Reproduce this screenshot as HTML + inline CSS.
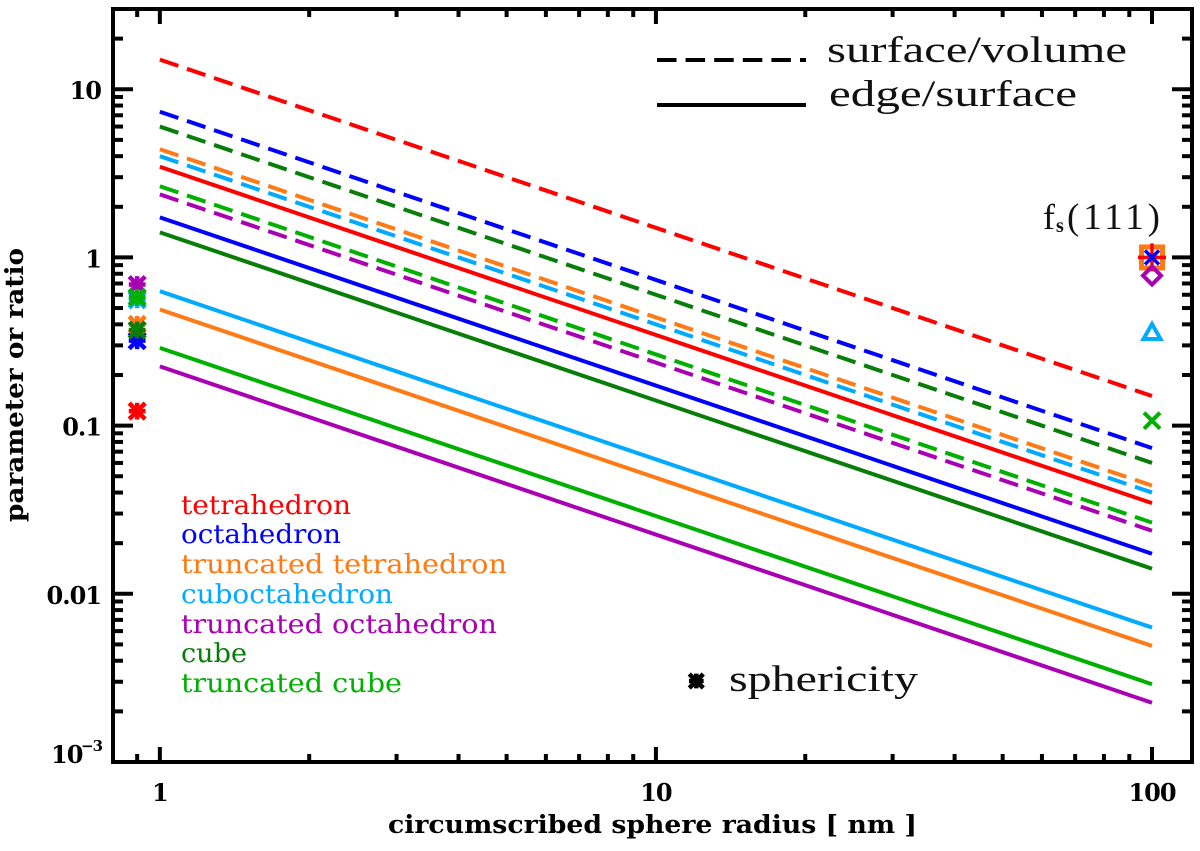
<!DOCTYPE html>
<html lang="en">
<head>
<meta charset="utf-8">
<title>Parameter or ratio vs circumscribed sphere radius</title>
<style>
html,body{margin:0;padding:0;background:#fff;width:1200px;height:851px;overflow:hidden}
svg{display:block}
.thin{font-family:"Liberation Serif",serif;fill:#111}
.name{font-family:"DejaVu Serif","Liberation Serif",serif;font-size:26px}
.tick{font-family:"DejaVu Serif","Liberation Serif",serif;font-weight:bold;font-size:24px;fill:#000;letter-spacing:-1px}
.title{font-family:"DejaVu Serif","Liberation Serif",serif;font-weight:bold;font-size:25px;fill:#000}
</style>
</head>
<body>
<svg id="chart" xmlns="http://www.w3.org/2000/svg" width="1200" height="851" viewBox="0 0 1200 851">
  <rect width="1200" height="851" fill="#fff"/>
  <g id="series"></g>
  <g id="markers"></g>
  <g id="axes"></g>

  <text class="title" transform="translate(23,522) rotate(-90)" textLength="274" lengthAdjust="spacingAndGlyphs">parameter or ratio</text>
  <text class="title" x="388" y="833" textLength="529" lengthAdjust="spacingAndGlyphs">circumscribed sphere radius [ nm ]</text>

  <line x1="657" y1="60" x2="806" y2="60" stroke="#000" stroke-width="4" stroke-dasharray="19.5 9.1"/>
  <line x1="657" y1="105" x2="806" y2="105" stroke="#000" stroke-width="4"/>
  <text class="thin" x="827" y="62" font-size="37" textLength="300" lengthAdjust="spacingAndGlyphs">surface/volume</text>
  <text class="thin" x="829" y="106" font-size="37" textLength="248" lengthAdjust="spacingAndGlyphs">edge/surface</text>

  <text class="thin" x="1043" y="229" font-size="36">f</text>
  <text class="thin" x="1056" y="232" font-size="20" font-weight="bold">s</text>
  <text class="thin" x="1067" y="229" font-size="37" textLength="93" lengthAdjust="spacing">(111)</text>

  <text class="thin" x="729" y="691" font-size="37" textLength="189" lengthAdjust="spacingAndGlyphs">sphericity</text>

  <g>
    <text class="name" x="181" y="514" fill="#ff0000" textLength="170" lengthAdjust="spacingAndGlyphs">tetrahedron</text>
    <text class="name" x="181" y="543" fill="#0000ff" textLength="160" lengthAdjust="spacingAndGlyphs">octahedron</text>
    <text class="name" x="181" y="573" fill="#ff7a14" textLength="326" lengthAdjust="spacingAndGlyphs">truncated tetrahedron</text>
    <text class="name" x="181" y="603" fill="#00aaff" textLength="212" lengthAdjust="spacingAndGlyphs">cuboctahedron</text>
    <text class="name" x="181" y="633" fill="#aa00b4" textLength="316" lengthAdjust="spacingAndGlyphs">truncated octahedron</text>
    <text class="name" x="181" y="662" fill="#087d08" textLength="66" lengthAdjust="spacingAndGlyphs">cube</text>
    <text class="name" x="181" y="692" fill="#00b000" textLength="221" lengthAdjust="spacingAndGlyphs">truncated cube</text>
  </g>
</svg>
<script>
// ---- chart data ----
const shapes = ['tetrahedron','octahedron','truncated-tetrahedron','cuboctahedron','truncated-octahedron','cube','truncated-cube'];
const shapeColors = ['#ff0000','#0000ff','#ff7a14','#00aaff','#aa00b4','#087d08','#00b000'];
const radiusEnds = [1, 100];
const surfaceVolumeAt1 = [15, 7.35, 4.4, 4.0, 2.37, 6.0, 2.65];
const surfaceVolumeAt100 = [0.15, 0.0735, 0.044, 0.04, 0.0237, 0.06, 0.0265];
const edgeSurfaceAt1 = [3.46, 1.73, 0.49, 0.63, 0.225, 1.41, 0.29];
const edgeSurfaceAt100 = [0.0346, 0.0173, 0.0049, 0.0063, 0.00225, 0.0141, 0.0029];
const sphericityRadius = 0.9;
const sphericity = [0.122, 0.32, 0.4, 0.56, 0.69, 0.37, 0.58];
const fs111Radius = 100;
const fs111 = [1, 1, 1, 0.36, 0.78, 1, 0.107];
const sphericityKey = {radius: 12.06, value: 0.00303};
const xMajorTicks = [1, 10, 100];
const xMinorTicks = [0.9,2,3,4,5,6,7,8,9,20,30,40,50,60,70,80,90];
const xTickLabels = ['1','10','100'];
const yMajorTicks = [0.001, 0.01, 0.1, 1, 10];
const yMinorMultipliers = [2,3,4,5,6,7,8,9];
const yTickLabels = ['', '0.01', '0.1', '1', '10'];

// ---- axis functions ----
const plot = {left:113, right:1192, top:9, bottom:762};
const xLogMin = Math.log10(0.8045), xLogMax = Math.log10(120.4);
const yLogMin = -3, yLogMax = Math.log10(30);
function xScale(v){ return plot.left + (Math.log10(v)-xLogMin)/(xLogMax-xLogMin)*(plot.right-plot.left); }
function yScale(v){ return plot.bottom - (Math.log10(v)-yLogMin)/(yLogMax-yLogMin)*(plot.bottom-plot.top); }

const NS = 'http://www.w3.org/2000/svg';
function mk(tag, parent, attrs){
  const el = document.createElementNS(NS, tag);
  for (const k in attrs) el.setAttribute(k, attrs[k]);
  parent.appendChild(el);
  return el;
}

const seriesG = document.getElementById('series');
const markersG = document.getElementById('markers');
const axesG = document.getElementById('axes');

// ---- lines ----
shapes.forEach(function(shape, i){
  const dashed = mk('line', seriesG, {x1:xScale(radiusEnds[0]), y1:yScale(surfaceVolumeAt1[i]), x2:xScale(radiusEnds[1]), y2:yScale(surfaceVolumeAt100[i]), stroke:shapeColors[i], 'stroke-width':4, 'stroke-dasharray':'19.5 9.1'});
  
  
});
shapes.forEach(function(shape, i){
  const solid = mk('line', seriesG, {x1:xScale(radiusEnds[0]), y1:yScale(edgeSurfaceAt1[i]), x2:xScale(radiusEnds[1]), y2:yScale(edgeSurfaceAt100[i]), stroke:shapeColors[i], 'stroke-width':4});
  
  
});

// ---- markers ----
function asterisk(parent, cx, cy, r, color, w){
  const p = 'M'+(cx-r)+' '+(cy-r)+'L'+(cx+r)+' '+(cy+r)+'M'+(cx-r)+' '+(cy+r)+'L'+(cx+r)+' '+(cy-r)+'M'+cx+' '+(cy-r*1.05)+'L'+cx+' '+(cy+r*1.05)+'M'+(cx-r*1.05)+' '+cy+'L'+(cx+r*1.05)+' '+cy;
  return mk('path', parent, {d:p, stroke:color, 'stroke-width':w, fill:'none'});
}
shapes.forEach(function(shape, i){
  const star = asterisk(markersG, xScale(sphericityRadius), yScale(sphericity[i]), 8, shapeColors[i], 4.5);
  
  
});
const keyStar = asterisk(markersG, xScale(sphericityKey.radius), yScale(sphericityKey.value), 7, '#000', 4.5);



const fx = xScale(fs111Radius);
const sq = mk('rect', markersG, {x:fx-10.5, y:yScale(fs111[2])-10.5, width:21, height:21, fill:'none', stroke:shapeColors[2], 'stroke-width':5});


const plusY = yScale(fs111[0]);
const plus = mk('path', markersG, {d:'M'+(fx-14)+' '+plusY+'H'+(fx+14)+'M'+fx+' '+(plusY-14)+'V'+(plusY+14), stroke:shapeColors[0], 'stroke-width':3.5, fill:'none'});


const blueY = yScale(fs111[1]);
const blueX = mk('path', markersG, {d:'M'+(fx-7)+' '+(blueY-7)+'L'+(fx+7)+' '+(blueY+7)+'M'+(fx-7)+' '+(blueY+7)+'L'+(fx+7)+' '+(blueY-7), stroke:shapeColors[1], 'stroke-width':3.5, fill:'none'});


const diaY = yScale(fs111[4]);
const dia = mk('path', markersG, {d:'M'+fx+' '+(diaY-9)+'L'+(fx+9)+' '+diaY+'L'+fx+' '+(diaY+9)+'L'+(fx-9)+' '+diaY+'Z', stroke:shapeColors[4], 'stroke-width':4, fill:'none'});


const triY = yScale(fs111[3]);
const tri = mk('path', markersG, {d:'M'+fx+' '+(triY-8)+'L'+(fx+8.5)+' '+(triY+7)+'L'+(fx-8.5)+' '+(triY+7)+'Z', stroke:shapeColors[3], 'stroke-width':4, fill:'none'});


const crossY = yScale(fs111[6]);
const cross = mk('path', markersG, {d:'M'+(fx-8)+' '+(crossY-8)+'L'+(fx+8)+' '+(crossY+8)+'M'+(fx-8)+' '+(crossY+8)+'L'+(fx+8)+' '+(crossY-8), stroke:shapeColors[6], 'stroke-width':4, fill:'none'});



// ---- axes ----
const frame = mk('rect', axesG, {x:plot.left, y:plot.top, width:plot.right-plot.left, height:plot.bottom-plot.top, fill:'none', stroke:'#000', 'stroke-width':4});



function tickLine(x1, y1, x2, y2, w){
  return mk('line', axesG, {x1:x1, y1:y1, x2:x2, y2:y2, stroke:'#000', 'stroke-width':w});
}
xMajorTicks.forEach(function(v, i){
  const x = xScale(v);
  const b = tickLine(x, plot.bottom, x, plot.bottom-15, 4);
  
  
  const t = tickLine(x, plot.top, x, plot.top+15, 4);
  
  
  const lab = mk('text', axesG, {x:x, y:801, 'text-anchor':'middle', 'class':'tick'});
  lab.textContent = xTickLabels[i];
  
  
});
xMinorTicks.forEach(function(v){
  const x = xScale(v);
  const b = tickLine(x, plot.bottom, x, plot.bottom-8, 4);
  
  
  const t = tickLine(x, plot.top, x, plot.top+8, 4);
  
  
});
yMajorTicks.forEach(function(v, i){
  const y = yScale(v);
  const l = tickLine(plot.left, y, plot.left+20, y, 4);
  
  
  const r = tickLine(plot.right, y, plot.right-20, y, 4);
  
  
  if (yTickLabels[i]) {
    const lab = mk('text', axesG, {x:101, y:y+10, 'text-anchor':'end', 'class':'tick'});
    lab.textContent = yTickLabels[i];
    
    
  }
  yMinorMultipliers.forEach(function(m){
    const val = v*m;
    if (val > 30) return;
    const ym = yScale(val);
    const a = tickLine(plot.left, ym, plot.left+10, ym, 4);
    
    
    const c = tickLine(plot.right, ym, plot.right-10, ym, 4);
    
    
  });
});
const expBase = mk('text', axesG, {x:51, y:763, 'class':'tick'});
expBase.textContent = '10';


const expPow = mk('text', axesG, {x:81, y:751, 'class':'tick', style:'font-size:15px'});
expPow.textContent = '\u22123';


</script>
</body>
</html>
